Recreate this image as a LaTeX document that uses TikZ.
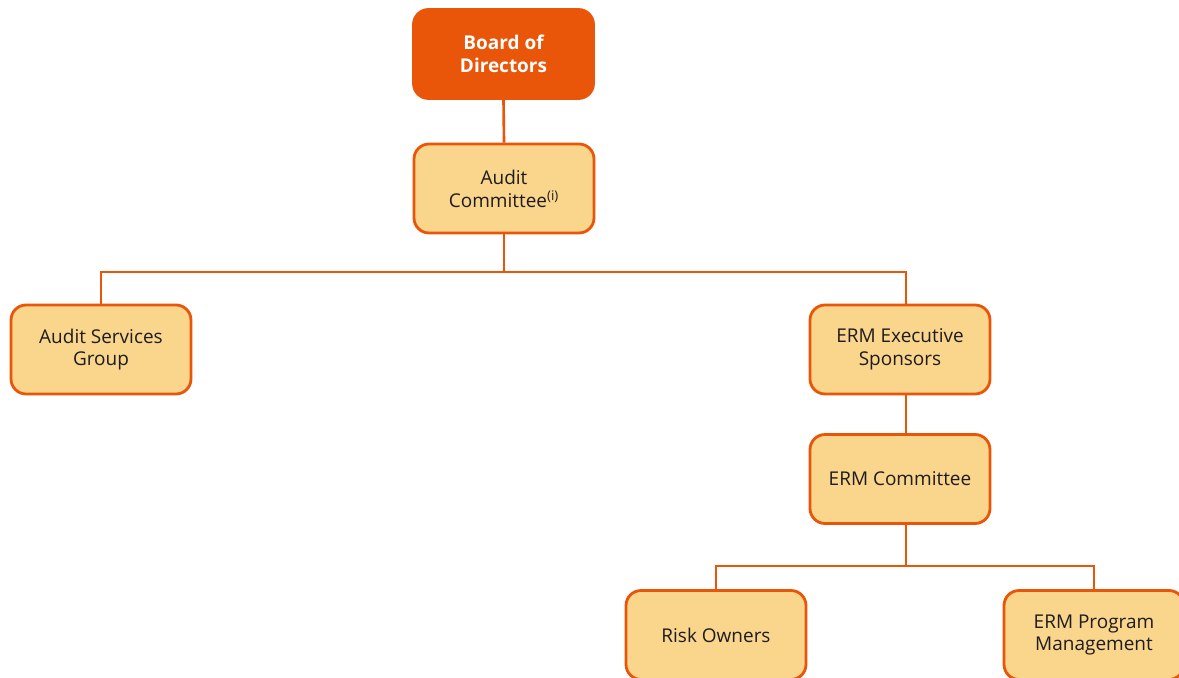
\documentclass[tikz,border=0pt]{standalone}
\usepackage{fontspec}
\setmainfont{Open Sans}
\usepackage{tikz}

\definecolor{ermorange}{RGB}{233,86,9}
\definecolor{ermlight}{RGB}{250,213,140}
\definecolor{ermtext}{RGB}{30,28,28}

\begin{document}
\begin{tikzpicture}[x=0.02cm,y=-0.02cm,
    box/.style={draw=ermorange,line width=1.6pt,fill=ermlight,rounded corners=0.3cm,
      minimum width=3.6cm,minimum height=1.78cm,align=center,text=ermtext,
      font=\fontsize{10.8}{13}\selectfont},
    topbox/.style={box,fill=ermorange,text=white,font=\fontsize{10.8}{13}\selectfont\bfseries},
    link/.style={draw=ermorange,line width=1.5pt}]
      \useasboundingbox (0,0) rectangle (1179,678);

      \node[topbox] (board) at (503.5,54) {Board of\\Directors};
      \node[box] (audit) at (504,188.5) {Audit\\Committee\textsuperscript{(i)}};
      \node[box] (asg) at (101,349.5) {Audit Services\\Group};
      \node[box] (exec) at (900,349.5) {ERM Executive\\Sponsors};
      \node[box] (ermc) at (900,479) {ERM Committee};
      \node[box] (risk) at (716,635) {Risk Owners};
      \node[box] (prog) at (1094,635) {ERM Program\\Management};

      \coordinate (busL) at (101,272);
      \coordinate (busR) at (906,272);
      \coordinate (busB) at (906,566);

      \draw[link] (board.south) -- (audit.north);
      \draw[link] (audit.south) -- (audit.south |- busL);
      \draw[link] (asg.north) |- (busR) -- (busR |- exec.north);
      \draw[link] (exec.south -| busR) -- (ermc.north -| busR);
      \draw[link] (ermc.south -| busB) -- (busB);
      \draw[link] (risk.north) |- (prog.north |- busB) -- (prog.north);
    \end{tikzpicture}
\end{document}
